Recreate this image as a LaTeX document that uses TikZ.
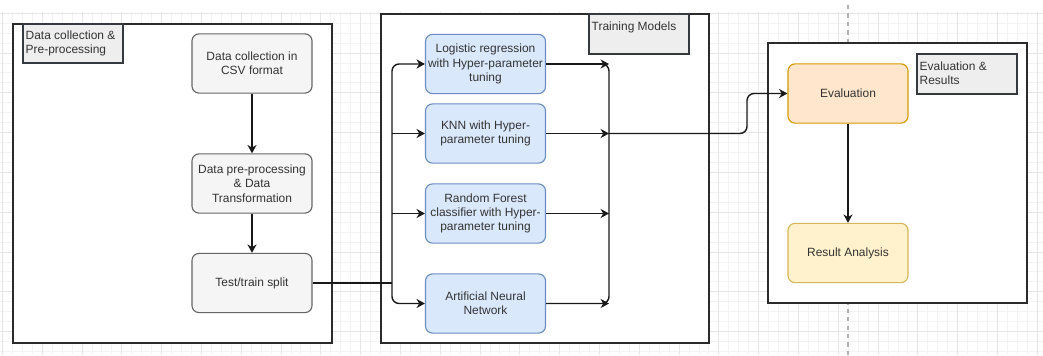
\documentclass[tikz,border=0pt]{standalone}
\usepackage{fontspec}
\setmainfont{Liberation Sans}
\usetikzlibrary{arrows.meta}
\definecolor{txtgray}{HTML}{333333}
\definecolor{framedk}{HTML}{2B2B2B}
\definecolor{tagfill}{HTML}{EEEEEE}
\definecolor{tagline}{HTML}{36393D}
\definecolor{gryfill}{HTML}{F5F5F5}
\definecolor{gryline}{HTML}{666666}
\definecolor{bluefill}{HTML}{DAE8FC}
\definecolor{blueline}{HTML}{6C8EBF}
\definecolor{orgfill}{HTML}{FFE6CC}
\definecolor{orgline}{HTML}{D79B00}
\definecolor{yelfill}{HTML}{FFF2CC}
\definecolor{yelline}{HTML}{D6B656}
\definecolor{gridln}{HTML}{E6E6E6}

\begin{document}
\begin{tikzpicture}[
  x=0.025cm, y=-0.025cm,
  >={Stealth[length=6pt, width=6.5pt]},
  flow/.style={->, black!90, line width=1pt},
  wire/.style={black!90, line width=1pt},
  frame/.style={draw=framedk, fill=white, line width=1.2pt},
  tag/.style={draw=tagline, fill=tagfill, line width=0.9pt},
  tagtxt/.style={anchor=north west, inner sep=1pt, align=left, txtgray,
    font=\fontsize{8.5}{10.2}\selectfont},
  box/.style={rounded corners=5pt, line width=0.8pt, minimum width=3cm,
    minimum height=1.48cm, inner sep=0pt, align=center, txtgray,
    font=\fontsize{8.5}{10.2}\selectfont},
  grybox/.style={box, draw=gryline, fill=gryfill},
  bluebox/.style={box, draw=blueline, fill=bluefill},
  orgbox/.style={box, draw=orgline, fill=orgfill},
  yelbox/.style={box, draw=yelline, fill=yelfill},
]
\useasboundingbox (0,0) rectangle (1043,355);

% ══════════════════════════════════════════════════════
% Canvas grid
% ══════════════════════════════════════════════════════
\foreach \k in {0,...,104}
  \draw[gridln!50, line width=0.3pt] ({2.2+\k*9.95},12) -- ({2.2+\k*9.95},355);
\foreach \k in {0,...,34}
  \draw[gridln!50, line width=0.3pt] (0,{13+\k*9.95}) -- (1043,{13+\k*9.95});
\foreach \k in {0,...,26}
  \draw[gridln, line width=0.4pt] ({2.2+\k*39.8},12) -- ({2.2+\k*39.8},355);
\foreach \k in {0,...,8}
  \draw[gridln, line width=0.4pt] (0,{13+\k*39.8}) -- (1043,{13+\k*39.8});

% page break guide
\draw[gray!60, dashed, line width=0.8pt] (848,5) -- (848,355);

% ══════════════════════════════════════════════════════
% Group frames
% ══════════════════════════════════════════════════════
\draw[frame] (13,24) rectangle (332,343);
\draw[tag] (23,24) rectangle (123,63);
\node[tagtxt] (tagprep) at (24,29) {Data collection \&\\Pre-processing};

\draw[frame] (381,14) rectangle (709,343);
\draw[tag] (589,14) rectangle (689,54);
\node[tagtxt] (tagtrain) at (590,20) {Training Models};

\draw[frame] (768,43) rectangle (1027,303);
\draw[tag] (917,54) rectangle (1017,94);
\node[tagtxt] (tageval) at (918,60) {Evaluation \&\\Results};

% ══════════════════════════════════════════════════════
% Steps
% ══════════════════════════════════════════════════════
\node[grybox] (csv)   at (252,63.5)  {Data collection in\\CSV format};
\node[grybox] (prep)  at (252,183.5) {Data pre-processing\\\& Data\\Transformation};
\node[grybox] (split) at (252,283)   {Test/train split};

\node[bluebox] (lr)  at (485.5,64)    {Logistic regression\\with Hyper-parameter\\tuning};
\node[bluebox] (knn) at (485.5,133.5) {KNN with Hyper-\\parameter tuning};
\node[bluebox] (rf)  at (485.5,213.5) {Random Forest\\classifier with Hyper-\\parameter tuning};
\node[bluebox] (ann) at (485.5,303.5) {Artificial Neural\\Network};

\node[orgbox] (eval) at (848,93.5) {Evaluation};
\node[yelbox] (res)  at (848,253)  {Result Analysis};

% ══════════════════════════════════════════════════════
% Connectors
% ══════════════════════════════════════════════════════
\coordinate (jin)  at (392,283);
\coordinate (jout) at (609,133.5);
\coordinate (bend) at (747,133.5);

\draw[flow] (csv) -- (prep);
\draw[flow] (prep) -- (split);

% fan-out to the models
\draw[wire] (split.east) -- (jin);
\draw[flow, rounded corners=5pt] (jin) |- (lr.west);
\draw[flow, rounded corners=5pt] (jin) |- (ann.west);
\draw[flow] (jin |- knn.west) -- (knn.west);
\draw[flow] (jin |- rf.west) -- (rf.west);

% fan-in towards evaluation
\draw[wire, rounded corners=5pt]
  (lr.east) -- (lr.east -| jout) -- (ann.east -| jout) -- (ann.east);
\foreach \m in {lr, knn, rf, ann}
  \draw[flow] (\m.east) -- (\m.east -| jout);
\draw[flow, rounded corners=5pt] (jout) -- (bend) |- (eval.west);

\draw[flow] (eval) -- (res);

\end{tikzpicture}
\end{document}
